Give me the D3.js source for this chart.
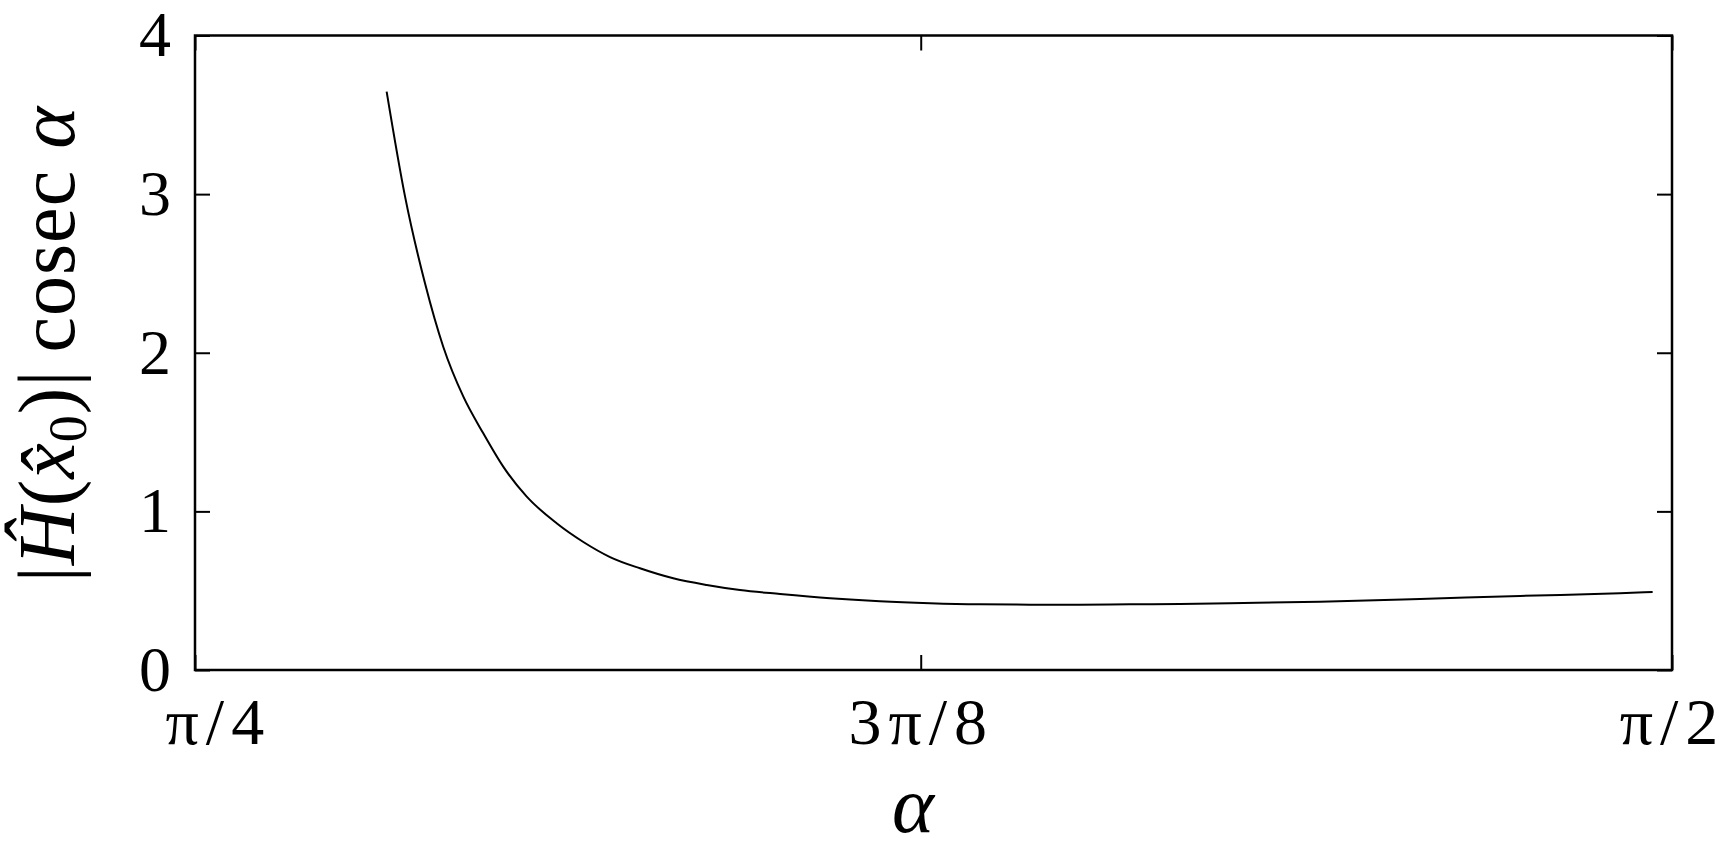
<!DOCTYPE html>
<html>
<head>
<meta charset="utf-8">
<script src="https://cdn.jsdelivr.net/npm/d3@7"></script>
<style>
  html, body { margin: 0; padding: 0; background: #fff; overflow: hidden; }
  svg { display: block; }
  text { font-family: "Liberation Serif", "Times New Roman", serif; fill: #000; }
</style>
</head>
<body>
<script>
// ---- data ----
const alphaValues = [0.8873, 0.8971, 0.9077, 0.9174, 0.9281, 0.9387, 0.9493, 0.9618, 0.9777, 0.9919,
  1.0061, 1.0220, 1.0397, 1.0575, 1.0752, 1.0965,
  1.1231, 1.1496, 1.1762, 1.2028, 1.2294, 1.2560, 1.2826, 1.3092, 1.3358, 1.3836,
  1.4368, 1.4900, 1.5431, 1.5605];
const hValues = [3.646, 2.984, 2.438, 2.038, 1.723, 1.492, 1.282, 1.093, 0.925, 0.807,
  0.712, 0.641, 0.578, 0.536, 0.504, 0.479,
  0.452, 0.433, 0.421, 0.414, 0.412, 0.412, 0.414, 0.416, 0.421, 0.431,
  0.448, 0.467, 0.484, 0.492];
const xTickValues = [0.7854, 1.1713, 1.5708];
const xTickLabels = ["\u03C0/4", "3\u03C0/8", "\u03C0/2"];
const yTickValues = [0, 1, 2, 3, 4];
const yTickLabels = ["0", "1", "2", "3", "4"];
const xDomain = [Math.PI / 4, Math.PI / 2];
const yDomain = [0, 4];

// ---- layout ----
const W = 1725, H = 851;
const mLeft = 195, mRight = 1672, mTop = 35.5, mBottom = 670;

const svg = d3.select("body").append("svg").attr("width", W).attr("height", H);

const x = d3.scaleLinear().domain(xDomain).range([mLeft, mRight]);
const y = d3.scaleLinear().domain(yDomain).range([mBottom, mTop]);

function styleAxis(g, size) {
  g.select(".domain").remove();
  g.selectAll(".tick line").attr("stroke", "#000").attr("stroke-width", 2);
  g.selectAll(".tick text")
    .attr("font-family", "Liberation Serif, Times New Roman, serif")
    .attr("font-size", size)
    .attr("fill", "#000");
}

// left axis
svg.append("g")
  .attr("transform", `translate(${mLeft},0)`)
  .call(d3.axisLeft(y).tickValues(yTickValues).tickSize(-15).tickPadding(24)
    .tickFormat((d, i) => yTickLabels[i]))
  .call(g => styleAxis(g, 64));

// right axis (ticks only)
svg.append("g")
  .attr("transform", `translate(${mRight},0)`)
  .call(d3.axisRight(y).tickValues(yTickValues).tickSize(-15).tickFormat(""))
  .call(g => styleAxis(g, 64));

// bottom axis
const gx = svg.append("g")
  .attr("transform", `translate(0,${mBottom})`)
  .call(d3.axisBottom(x).tickValues(xTickValues).tickSize(-15).tickPadding(27)
    .tickFormat((d, i) => xTickLabels[i]))
  .call(g => styleAxis(g, 66));
gx.selectAll(".tick text").attr("letter-spacing", 7);
gx.selectAll(".tick text").filter((d, i) => i === 0)
  .attr("text-anchor", "start").attr("x", -30);

// top axis (ticks only)
svg.append("g")
  .attr("transform", `translate(0,${mTop})`)
  .call(d3.axisTop(x).tickValues(xTickValues).tickSize(-15).tickFormat(""))
  .call(g => styleAxis(g, 64));

// frame
svg.append("rect")
  .attr("x", mLeft).attr("y", mTop)
  .attr("width", mRight - mLeft).attr("height", mBottom - mTop)
  .attr("fill", "none").attr("stroke", "#000").attr("stroke-width", 2.5);

// curve
const pts = alphaValues.map((a, i) => [a, hValues[i]]);
const line = d3.line().x(d => x(d[0])).y(d => y(d[1])).curve(d3.curveMonotoneX);
svg.append("path")
  .datum(pts)
  .attr("d", line)
  .attr("fill", "none")
  .attr("stroke", "#000")
  .attr("stroke-width", 2);

// x label
svg.append("text")
  .attr("x", 913).attr("y", 832)
  .attr("text-anchor", "middle")
  .attr("font-size", 80)
  .attr("font-style", "italic")
  .text("\u03B1");

// y label
const yl = svg.append("text")
  .attr("transform", "translate(74,344) rotate(-90)")
  .attr("text-anchor", "middle")
  .attr("font-size", 80)
  .attr("letter-spacing", 1);
yl.append("tspan").text("|");
yl.append("tspan").attr("font-style", "italic").text("H\u0302");
yl.append("tspan").text("(");
yl.append("tspan").attr("font-style", "italic").text("x\u0302");
yl.append("tspan").attr("font-size", 54).attr("dy", 12).text("0");
yl.append("tspan").attr("dy", -12).text(")|\u2009cosec\u00A0");
yl.append("tspan").attr("font-style", "italic").text("\u03B1");
</script>
</body>
</html>
